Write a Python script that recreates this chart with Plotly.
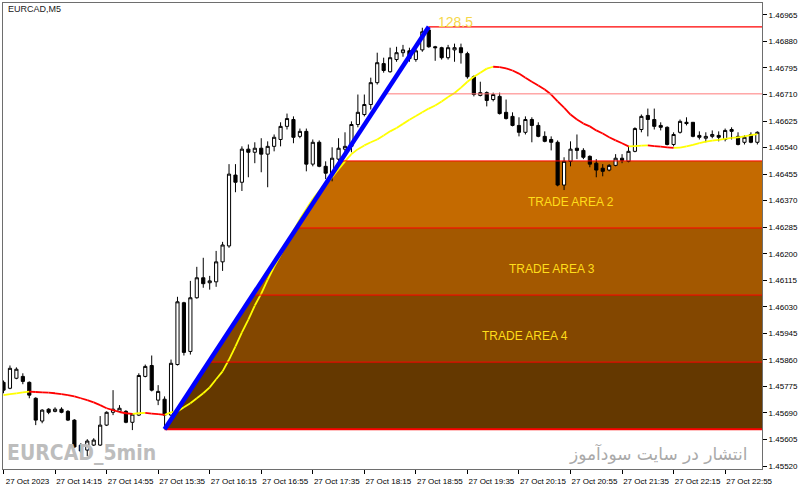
import plotly.graph_objects as go

# ---------------- data (EURCAD M5, 27 Oct 2023, bars from 13:35) ----------------
open_ = [1.45788, 1.45769, 1.45801, 1.45807, 1.45788, 1.45737, 1.45664, 1.45702, 1.45695, 1.45702,
         1.45695, 1.45667, 1.45587, 1.45571, 1.45587, 1.45587, 1.45651, 1.45692, 1.45695, 1.45695,
         1.45660, 1.45683, 1.45807, 1.45842, 1.45731, 1.45734, 1.45683, 1.45845, 1.46043, 1.45887,
         1.46059, 1.46123, 1.46107, 1.46110, 1.46174, 1.46225, 1.46452, 1.46429, 1.46535, 1.46525,
         1.46538, 1.46519, 1.46544, 1.46566, 1.46608, 1.46630, 1.46576, 1.46592, 1.46487, 1.46557,
         1.46480, 1.46455, 1.46503, 1.46535, 1.46544, 1.46614, 1.46646, 1.46678, 1.46748, 1.46809,
         1.46783, 1.46822, 1.46844, 1.46850, 1.46822, 1.46853, 1.46917, 1.46863, 1.46860, 1.46828,
         1.46853, 1.46860, 1.46841, 1.46767, 1.46707, 1.46716, 1.46694, 1.46704, 1.46653, 1.46640,
         1.46611, 1.46589, 1.46630, 1.46611, 1.46576, 1.46566, 1.46557, 1.46420, 1.46496, 1.46538,
         1.46531, 1.46512, 1.46490, 1.46474, 1.46468, 1.46483, 1.46506, 1.46496, 1.46528, 1.46598,
         1.46643, 1.46630, 1.46611, 1.46605, 1.46550, 1.46589, 1.46621, 1.46621, 1.46579, 1.46570,
         1.46576, 1.46579, 1.46566, 1.46598, 1.46576, 1.46557, 1.46582, 1.46557]
high = [1.45794, 1.45842, 1.45836, 1.45817, 1.45791, 1.45740, 1.45702, 1.45705, 1.45708, 1.45708,
        1.45699, 1.45670, 1.45593, 1.45606, 1.45609, 1.45680, 1.45695, 1.45763, 1.45715, 1.45699,
        1.45689, 1.45817, 1.45845, 1.45874, 1.45779, 1.45743, 1.45861, 1.46062, 1.46046, 1.46113,
        1.46158, 1.46187, 1.46129, 1.46209, 1.46238, 1.46487, 1.46487, 1.46544, 1.46550, 1.46557,
        1.46570, 1.46560, 1.46582, 1.46621, 1.46649, 1.46640, 1.46601, 1.46601, 1.46566, 1.46563,
        1.46496, 1.46541, 1.46570, 1.46589, 1.46624, 1.46710, 1.46710, 1.46764, 1.46844, 1.46828,
        1.46860, 1.46863, 1.46869, 1.46860, 1.46860, 1.46924, 1.46927, 1.46866, 1.46863, 1.46869,
        1.46873, 1.46873, 1.46847, 1.46771, 1.46751, 1.46720, 1.46716, 1.46716, 1.46694, 1.46653,
        1.46637, 1.46640, 1.46637, 1.46621, 1.46592, 1.46576, 1.46563, 1.46509, 1.46560, 1.46582,
        1.46538, 1.46515, 1.46503, 1.46487, 1.46487, 1.46519, 1.46519, 1.46544, 1.46605, 1.46646,
        1.46665, 1.46665, 1.46621, 1.46608, 1.46589, 1.46630, 1.46637, 1.46621, 1.46592, 1.46589,
        1.46595, 1.46592, 1.46601, 1.46605, 1.46589, 1.46579, 1.46589, 1.46592]
low = [1.45753, 1.45766, 1.45798, 1.45782, 1.45737, 1.45651, 1.45657, 1.45686, 1.45692, 1.45689,
       1.45664, 1.45578, 1.45562, 1.45552, 1.45584, 1.45584, 1.45648, 1.45683, 1.45692, 1.45657,
       1.45635, 1.45680, 1.45804, 1.45759, 1.45715, 1.45638, 1.45680, 1.45842, 1.45874, 1.45877,
       1.46056, 1.46091, 1.46085, 1.46094, 1.46145, 1.46219, 1.46397, 1.46401, 1.46445, 1.46490,
       1.46461, 1.46413, 1.46528, 1.46544, 1.46598, 1.46554, 1.46570, 1.46464, 1.46480, 1.46477,
       1.46439, 1.46432, 1.46496, 1.46525, 1.46525, 1.46605, 1.46640, 1.46662, 1.46742, 1.46780,
       1.46780, 1.46815, 1.46831, 1.46815, 1.46815, 1.46847, 1.46860, 1.46818, 1.46822, 1.46822,
       1.46815, 1.46809, 1.46761, 1.46704, 1.46704, 1.46672, 1.46688, 1.46646, 1.46630, 1.46608,
       1.46576, 1.46582, 1.46557, 1.46573, 1.46557, 1.46531, 1.46416, 1.46404, 1.46480, 1.46503,
       1.46503, 1.46477, 1.46445, 1.46448, 1.46464, 1.46480, 1.46490, 1.46493, 1.46525, 1.46589,
       1.46576, 1.46598, 1.46595, 1.46547, 1.46544, 1.46585, 1.46611, 1.46573, 1.46566, 1.46557,
       1.46570, 1.46560, 1.46560, 1.46566, 1.46547, 1.46550, 1.46554, 1.46550]
close = [1.45763, 1.45833, 1.45830, 1.45791, 1.45747, 1.45667, 1.45699, 1.45692, 1.45702, 1.45692,
         1.45667, 1.45581, 1.45568, 1.45600, 1.45603, 1.45651, 1.45692, 1.45702, 1.45705, 1.45660,
         1.45686, 1.45810, 1.45839, 1.45763, 1.45759, 1.45683, 1.45849, 1.46046, 1.45884, 1.46059,
         1.46123, 1.46104, 1.46113, 1.46174, 1.46228, 1.46455, 1.46429, 1.46535, 1.46525, 1.46538,
         1.46519, 1.46544, 1.46573, 1.46608, 1.46633, 1.46573, 1.46592, 1.46487, 1.46557, 1.46480,
         1.46458, 1.46506, 1.46538, 1.46544, 1.46614, 1.46653, 1.46678, 1.46748, 1.46812, 1.46787,
         1.46828, 1.46844, 1.46853, 1.46825, 1.46850, 1.46911, 1.46863, 1.46860, 1.46828, 1.46860,
         1.46860, 1.46844, 1.46767, 1.46710, 1.46716, 1.46691, 1.46710, 1.46649, 1.46633, 1.46611,
         1.46589, 1.46630, 1.46611, 1.46576, 1.46560, 1.46557, 1.46420, 1.46496, 1.46535, 1.46531,
         1.46509, 1.46487, 1.46468, 1.46464, 1.46483, 1.46506, 1.46499, 1.46528, 1.46601, 1.46640,
         1.46630, 1.46608, 1.46605, 1.46550, 1.46582, 1.46624, 1.46617, 1.46576, 1.46573, 1.46576,
         1.46582, 1.46573, 1.46595, 1.46592, 1.46550, 1.46573, 1.46557, 1.46589]
moving_avg = [1.45747, 1.45750, 1.45753, 1.45756, 1.45758, 1.45757, 1.45756, 1.45755, 1.45753, 1.45750,
              1.45747, 1.45743, 1.45737, 1.45731, 1.45724, 1.45715, 1.45705, 1.45699, 1.45693, 1.45689,
              1.45687, 1.45689, 1.45690, 1.45688, 1.45686, 1.45684, 1.45692, 1.45695, 1.45708, 1.45721,
              1.45737, 1.45753, 1.45772, 1.45798, 1.45823, 1.45861, 1.45903, 1.45948, 1.45989, 1.46034,
              1.46072, 1.46117, 1.46158, 1.46196, 1.46235, 1.46273, 1.46311, 1.46343, 1.46375, 1.46401,
              1.46426, 1.46445, 1.46471, 1.46496, 1.46519, 1.46535, 1.46547, 1.46557, 1.46566, 1.46579,
              1.46592, 1.46603, 1.46616, 1.46629, 1.46641, 1.46653, 1.46665, 1.46675, 1.46688, 1.46702,
              1.46715, 1.46732, 1.46751, 1.46767, 1.46780, 1.46793, 1.46799, 1.46798, 1.46794, 1.46787,
              1.46777, 1.46764, 1.46751, 1.46739, 1.46726, 1.46710, 1.46688, 1.46668, 1.46646, 1.46630,
              1.46617, 1.46608, 1.46595, 1.46585, 1.46573, 1.46563, 1.46554, 1.46544, 1.46545, 1.46546,
              1.46547, 1.46545, 1.46543, 1.46541, 1.46539, 1.46540, 1.46544, 1.46549, 1.46554, 1.46559,
              1.46562, 1.46565, 1.46568, 1.46571, 1.46573, 1.46576, 1.46580, 1.46583]

x_tick_bars = [0, 8, 16, 24, 32, 40, 48, 56, 64, 72, 80, 88, 96, 104, 112]
x_tick_labels = ["27 Oct 2023", "27 Oct 14:15", "27 Oct 14:55", "27 Oct 15:35", "27 Oct 16:15",
                 "27 Oct 16:55", "27 Oct 17:35", "27 Oct 18:15", "27 Oct 18:55", "27 Oct 19:35",
                 "27 Oct 20:15", "27 Oct 20:55", "27 Oct 21:35", "27 Oct 22:15", "27 Oct 22:55"]
y_ticks = [1.45520, 1.45605, 1.45690, 1.45775, 1.45860, 1.45945, 1.46030, 1.46115, 1.46200,
           1.46285, 1.46370, 1.46455, 1.46540, 1.46625, 1.46710, 1.46795, 1.46880, 1.46965]

fib_start_bar = 25   # swing low bar
fib_end_bar = 66     # swing high bar
fib_fracs = [0, 1/6, 2/6, 3/6, 4/6, 5/6, 1]
zone_labels = ["", "TRADE AREA 4", "TRADE AREA 3", "TRADE AREA 2"]
fib_text = "128.5"

# ---------------- derived ----------------
bars = list(range(len(open_)))
n = len(bars)
fib_low = low[fib_start_bar]
fib_high = high[fib_end_bar]
levels = [fib_low + f * (fib_high - fib_low) for f in fib_fracs]
X_END = 125


def diag_x(p):
    return fib_start_bar + (p - fib_low) / (fib_high - fib_low) * (fib_end_bar - fib_start_bar)


zone_colors = ["#643800", "#834700", "#A35800", "#C46A00"]
level_colors = ["#FF0000", "#FF0000", "#FF0000", "#FF0000", "#FF0000", "#FF7A7A", "#FF0000"]
level_widths = [2, 1, 1, 1, 1, 1, 1.3]

fig = go.Figure()

# zone fills (bounded on the left by the fib diagonal) drawn below the candles
shapes = []
for k, col in enumerate(zone_colors):
    a, b = levels[k], levels[k + 1]
    path = (f"M {diag_x(a)},{a} L {X_END},{a} L {X_END},{b} "
            f"L {diag_x(b)},{b} Z")
    shapes.append(dict(type="path", path=path, xref="x", yref="y", layer="below",
                       fillcolor=col, line=dict(width=0)))

# candles
fig.add_trace(go.Candlestick(
    x=bars, open=open_, high=high, low=low, close=close,
    increasing=dict(line=dict(color="black", width=1), fillcolor="white"),
    decreasing=dict(line=dict(color="black", width=1), fillcolor="black"),
    whiskerwidth=0, showlegend=False))

# moving average coloured by slope
for color, up in (("#FFFF00", True), ("#FF0000", False)):
    xs, ys = [], []
    for i in range(1, n):
        rising = moving_avg[i] >= moving_avg[i - 1]
        if rising == up:
            xs += [i - 1, i, None]
            ys += [moving_avg[i - 1], moving_avg[i], None]
    fig.add_trace(go.Scatter(x=xs, y=ys, mode="lines",
                             line=dict(color=color, width=1.8),
                             hoverinfo="skip", showlegend=False))

# fib level lines
for lv, col, w in zip(levels, level_colors, level_widths):
    fig.add_trace(go.Scatter(x=[diag_x(lv), X_END], y=[lv, lv], mode="lines",
                             line=dict(color=col, width=w), hoverinfo="skip", showlegend=False))

# fib diagonal
fig.add_trace(go.Scatter(x=[fib_start_bar, fib_end_bar], y=[fib_low, fib_high], mode="lines",
                         line=dict(color="#0000FF", width=4.5), hoverinfo="skip", showlegend=False))

annotations = []
zone_x = [None, 80.9, 85.2, 88.0]
for k in range(1, 4):
    yv = levels[k] + 0.39 * (levels[k + 1] - levels[k])
    annotations.append(dict(x=zone_x[k], y=yv, text=zone_labels[k], showarrow=False,
                            xanchor="center", yanchor="middle",
                            font=dict(family="Liberation Sans, Arial", size=12, color="#FFDD1A")))
annotations.append(dict(x=fib_end_bar + 1.2, y=fib_high, text=fib_text, showarrow=False,
                        xanchor="left", yanchor="middle", yshift=5,
                        font=dict(family="Liberation Sans, Arial", size=14, color="#F6D84A")))
annotations.append(dict(xref="paper", yref="paper", x=0.004, y=0.987, text="EURCAD,M5",
                        showarrow=False, xanchor="left", yanchor="middle",
                        font=dict(family="Liberation Sans, Arial", size=9, color="#202020")))
annotations.append(dict(xref="paper", yref="paper", x=0.003, y=0.034, text="<b>EURCAD_5min</b>",
                        showarrow=False, xanchor="left", yanchor="middle",
                        font=dict(family="Liberation Sans Narrow, DejaVu Sans Condensed, Roboto Condensed, Liberation Sans",
                                  size=21, color="#BDBDBD")))
annotations.append(dict(xref="paper", yref="paper", x=0.983, y=0.034, text="انتشار در سایت سودآموز",
                        showarrow=False, xanchor="right", yanchor="middle",
                        font=dict(family="DejaVu Sans, Noto Sans", size=17, color="#A9A9A9")))

fig.update_layout(
    width=800, height=488,
    margin=dict(l=2, r=37, t=3, b=17),
    paper_bgcolor="white", plot_bgcolor="white",
    showlegend=False,
    shapes=shapes,
    annotations=annotations,
    xaxis=dict(range=[-0.08, 117.72], rangeslider=dict(visible=False),
               tickmode="array", tickvals=x_tick_bars, ticktext=x_tick_labels,
               ticks="outside", ticklen=4, tickcolor="#000", ticklabelshift=24,
               tickfont=dict(family="Liberation Sans, Arial", size=8, color="#000"),
               showgrid=False, zeroline=False, showline=True, mirror=True,
               linecolor="#6E6E6E", linewidth=1),
    yaxis=dict(side="right", range=[1.455104, 1.470032],
               tickmode="array", tickvals=y_ticks, ticktext=[f"{v:.5f}" for v in y_ticks],
               ticks="outside", ticklen=4, tickcolor="#000",
               tickfont=dict(family="Liberation Sans, Arial", size=8, color="#000"),
               showgrid=False, zeroline=False, showline=True, mirror=True,
               linecolor="#6E6E6E", linewidth=1),
)

fig.write_html("out.html")
